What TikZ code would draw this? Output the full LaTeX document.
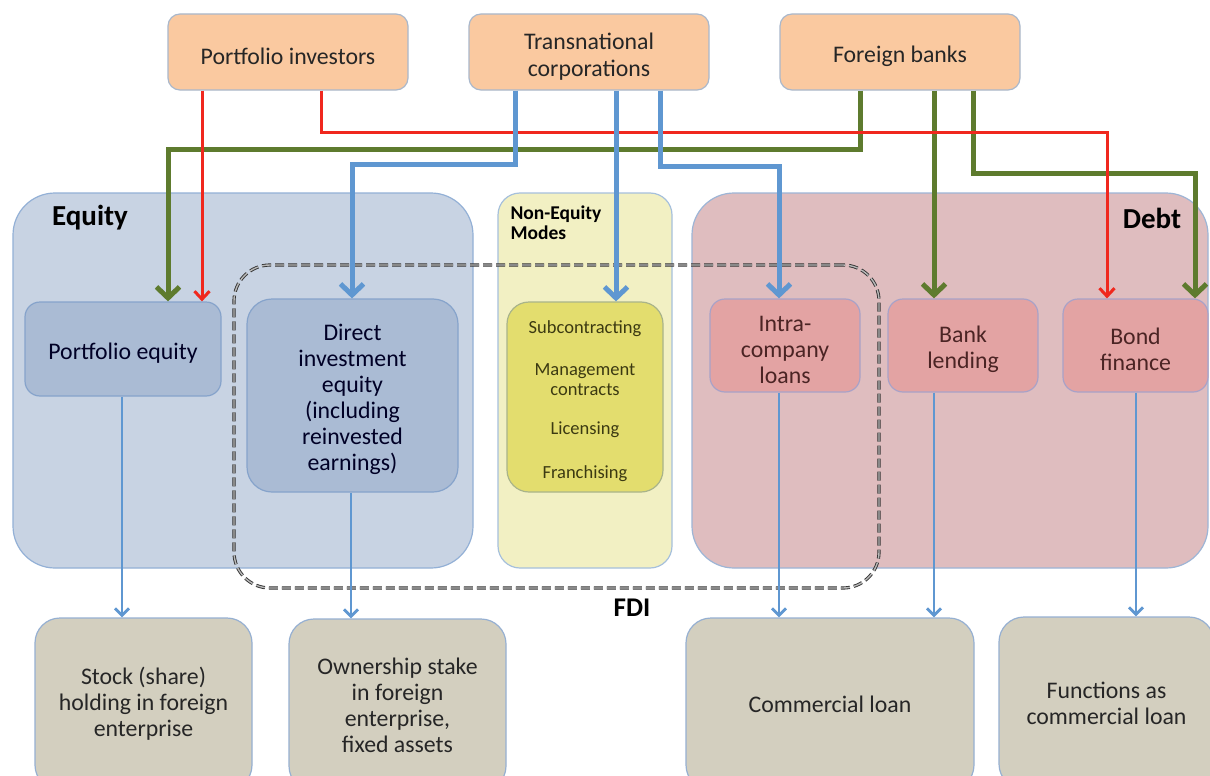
\documentclass[tikz,border=0pt]{standalone}
\usepackage{fontspec}
\setmainfont{Carlito}
\usetikzlibrary{arrows.meta}
\definecolor{topfill}{HTML}{FAC9A0}
\definecolor{topdraw}{HTML}{A9B8CC}
\definecolor{eqfill}{HTML}{C8D3E3}
\definecolor{eqdraw}{HTML}{93B0D6}
\definecolor{nefill}{HTML}{F2F0C3}
\definecolor{nedraw}{HTML}{A6C0DC}
\definecolor{dbfill}{HTML}{DFBDBF}
\definecolor{dbdraw}{HTML}{9DB5D6}
\definecolor{bluebox}{HTML}{AABBD4}
\definecolor{blueboxd}{HTML}{86A3CB}
\definecolor{yelbox}{HTML}{E3DD6E}
\definecolor{yelboxd}{HTML}{A9B48A}
\definecolor{pinkbox}{HTML}{E3A3A3}
\definecolor{pinkboxd}{HTML}{A8A2C8}
\definecolor{tanbox}{HTML}{D3CFBF}
\definecolor{tanboxd}{HTML}{96B0D2}
\definecolor{lred}{HTML}{F0281E}
\definecolor{lgreen}{HTML}{5E7B2E}
\definecolor{lblue}{HTML}{5F97D1}
\newcommand\mainfs{\fontsize{23.8}{26}\selectfont}
\newcommand\topfs{\fontsize{23.8}{27}\selectfont}
\newcommand\smallfs{\fontsize{18.5}{20}\selectfont}
\newcommand\dn{\rule{0pt}{25pt}}
\newcommand\dnsmall{\rule{0pt}{21pt}}
\begin{document}
\begin{tikzpicture}[x=1pt,y=-1pt,
  topbox/.style={draw=topdraw,fill=topfill,line width=1.2pt,rounded corners=12pt,
    minimum width=240pt,minimum height=76pt,align=center,font=\topfs,text=black!85,inner sep=0pt},
  region/.style={line width=1.2pt,rounded corners=42pt,minimum height=375pt,inner sep=0pt},
  title/.style={font=\bfseries\fontsize{29}{30}\selectfont,text=black},
  bbox/.style={draw=blueboxd,fill=bluebox,line width=1.2pt,align=center,font=\mainfs,text=black!85!blue,inner sep=0pt},
  pbox/.style={draw=pinkboxd,fill=pinkbox,line width=1.2pt,rounded corners=15pt,align=center,font=\mainfs,
    text={rgb,255:red,75;green,36;blue,36},minimum width=150pt,minimum height=93pt,inner sep=0pt},
  tbox/.style={draw=tanboxd,fill=tanbox,line width=1.2pt,rounded corners=25pt,align=center,font=\mainfs,
    text=black!85,minimum height=172pt,inner sep=0pt},
  thick arr/.style={line width=5pt,-{Straight Barb[length=11pt,width=23pt]}},
  red arr/.style={lred,line width=3pt,-{Straight Barb[length=8pt,width=15pt]}},
  bot arr/.style={lblue,line width=2.8pt,-{Straight Barb[length=7pt,width=14pt]}}
]
\useasboundingbox (0,0) rectangle (1210,776);
\clip (0,0) rectangle (1210,776);
\fill[white] (0,0) rectangle (1210,776);

% top boxes
\node[topbox] (pinv) at (288,52) {\dn Portfolio investors};
\node[topbox] (tnc) at (589,52) {\dn Transnational\\corporations};
\node[topbox] (fb) at (900,52) {\dn Foreign banks};

% regions
\node[region,draw=eqdraw,fill=eqfill,minimum width=460pt] (eq) at (243,380.5) {};
\node[region,draw=nedraw,fill=nefill,minimum width=174pt,rounded corners=22pt] (ne) at (585,380.5) {};
\node[region,draw=dbdraw,fill=dbfill,minimum width=516pt] (db) at (950,380.5) {};
\node[title] (eqt) at (90,218) {Equity};
\node[title] (dbt) at (1152,218) {Debt};
\node[anchor=west,align=left,font=\bfseries\fontsize{19.5}{20}\selectfont] (net) at (507,223) {Non-Equity\\Modes};

% FDI
\node[draw=black!80,double=black!28,double distance=1.4pt,line width=0.9pt,dash pattern=on 9pt off 4pt,
  rounded corners=36pt,minimum width=645pt,minimum height=323pt,inner sep=0pt] (fdi) at (556.5,426.5) {};
\node[title,font=\bfseries\fontsize{27}{28}\selectfont] (fdit) at (632,608) {FDI};

% inner boxes
\node[bbox,rounded corners=15pt,minimum width=196pt,minimum height=94pt] (pe) at (123,349) {\dn Portfolio equity};
\node[bbox,rounded corners=25pt,minimum width=211pt,minimum height=193pt] (die) at (352.5,395.5)
  {\dn Direct\\investment\\equity\\(including\\reinvested\\earnings)};
\node[draw=yelboxd,fill=yelbox,line width=1.2pt,rounded corners=22pt,minimum width=156pt,minimum height=190pt,
  inner sep=0pt,text={rgb,255:red,60;green,58;blue,18},font=\smallfs,align=center] (nem) at (585,397)
  {\dnsmall Subcontracting\\[22pt]Management\\contracts\\[19pt]Licensing\\[24pt]Franchising};
\node[pbox] (icl) at (785,345.5) {\dn Intra-\\company\\loans};
\node[pbox] (bl) at (963,345.5) {\dn Bank\\lending};
\node[pbox,minimum width=145pt] (bf) at (1135.5,345.5) {\dn Bond\\finance};

% bottom boxes
\node[tbox,minimum width=217pt] (st) at (143.5,704) {Stock (share)\\holding in foreign\\enterprise};
\node[tbox,minimum width=217pt] (os) at (397.5,705) {Ownership stake\\in foreign\\enterprise,\\fixed assets};
\node[tbox,minimum width=288pt] (cl) at (830,704) {Commercial loan};
\node[tbox,minimum width=215pt] (fc) at (1106.5,703) {Functions as\\commercial loan};

% green connectors
\draw[thick arr,lgreen] (fb.south -| 860,0) |- (168,149) -- (pe.north -| 168,0);
\draw[thick arr,lgreen] (fb.south -| 934,0) -- (bl.north -| 934,0);
\draw[thick arr,lgreen] (fb.south -| 973,0) |- (1195,173) -- (bf.north -| 1195,0);
% red connectors
\draw[red arr] (pinv.south -| 202,0) -- (pe.north -| 202,0);
\draw[red arr] (pinv.south -| 321,0) |- (1107,132) -- (bf.north -| 1107,0);
% blue connectors
\draw[thick arr,lblue] (tnc.south -| 515,0) |- (352,164) -- (die.north -| 352,0);
\draw[thick arr,lblue] (tnc.south -| 616,0) -- (nem.north -| 616,0);
\draw[thick arr,lblue] (tnc.south -| 660,0) |- (779,166) -- (icl.north -| 779,0);

% bottom connectors
\draw[bot arr] (pe.south -| 122,0) -- (st.north -| 122,0);
\draw[bot arr] (die.south -| 351,0) -- (os.north -| 351,0);
\draw[bot arr] (icl.south -| 779,0) -- (cl.north -| 779,0);
\draw[bot arr] (bl.south -| 934,0) -- (cl.north -| 934,0);
\draw[bot arr] (bf.south -| 1136,0) -- (fc.north -| 1136,0);
\end{tikzpicture}
\end{document}
